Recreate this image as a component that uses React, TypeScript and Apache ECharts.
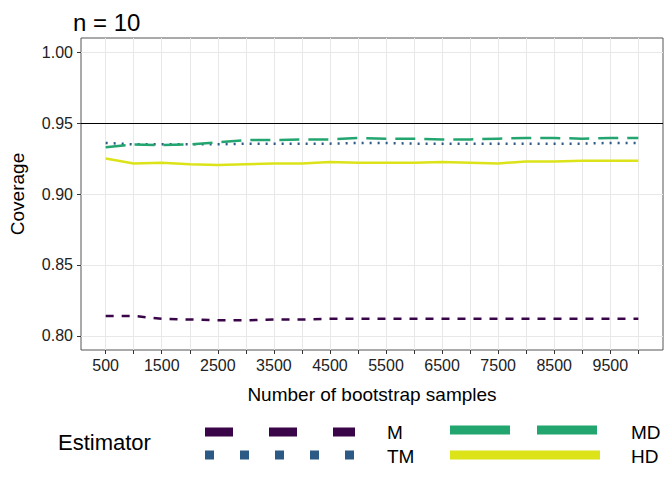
import * as echarts from 'echarts';
import { useEffect, useRef } from 'react';

const samples = [500, 1000, 1500, 2000, 2500, 3000, 3500, 4000, 4500, 5000, 5500, 6000, 6500, 7000, 7500, 8000, 8500, 9000, 9500, 10000];
const labelTicks = [500, 1500, 2500, 3500, 4500, 5500, 6500, 7500, 8500, 9500];
const yTicks = [0.8, 0.85, 0.9, 0.95, 1.0];
const mValues = [0.814, 0.814, 0.812, 0.8115, 0.811, 0.811, 0.8115, 0.8115, 0.812, 0.812, 0.812, 0.812, 0.812, 0.812, 0.812, 0.812, 0.812, 0.812, 0.812, 0.812];
const tmValues = [0.936, 0.935, 0.935, 0.935, 0.935, 0.9355, 0.9355, 0.9355, 0.9355, 0.936, 0.936, 0.9355, 0.9355, 0.9355, 0.9355, 0.9355, 0.9355, 0.9355, 0.936, 0.936];
const mdValues = [0.933, 0.935, 0.9345, 0.935, 0.9365, 0.938, 0.938, 0.9385, 0.9385, 0.9395, 0.939, 0.939, 0.9385, 0.9385, 0.939, 0.9395, 0.9395, 0.939, 0.9395, 0.9395];
const hdValues = [0.925, 0.9215, 0.922, 0.921, 0.9205, 0.921, 0.9215, 0.9215, 0.9225, 0.922, 0.922, 0.922, 0.9225, 0.922, 0.9215, 0.923, 0.923, 0.9235, 0.9235, 0.9235];
const target = 0.95;

const colors = { M: '#3a0548', TM: '#2c5a85', MD: '#22a56f', HD: '#dce319' };
const font = 'Liberation Sans, Arial, sans-serif';

export default function App() {
  const chartRef = useRef<HTMLDivElement>(null);

  useEffect(() => {
    document.body.style.margin = '0';
    if (!chartRef.current) return;
    const chart = echarts.init(chartRef.current, undefined, { renderer: 'svg' });

    const mk = (name: string, vals: number[], color: string, type: any, width: number) => ({
      name,
      type: 'line',
      data: samples.map((s, i) => [s, vals[i]]),
      symbol: 'none',
      lineStyle: { color, type, width, cap: 'butt' },
      z: 3,
    });

    const legendLine = (x1: number, x2: number, y: number, color: string, dash: any) => ({
      type: 'line',
      shape: { x1, y1: y, x2, y2: y },
      style: { stroke: color, lineWidth: 9, lineDash: dash },
    });
    const legendText = (x: number, y: number, text: string, size = 19) => ({
      type: 'text',
      x, y,
      style: { text, fontSize: size, fontFamily: font, fill: '#000', verticalAlign: 'middle' },
    });

    chart.setOption({
      animation: false,
      backgroundColor: '#fff',
      title: {
        text: 'n = 10',
        left: 68,
        top: 5,
        textStyle: { fontSize: 24, fontWeight: 'normal', fontFamily: font, color: '#000' },
      },
      grid: { left: 75, right: 9, top: 38, bottom: 130, show: true, borderColor: '#555', borderWidth: 1 },
      xAxis: {
        type: 'value',
        min: 60,
        max: 10440,
        name: 'Number of bootstrap samples',
        nameLocation: 'middle',
        nameGap: 35,
        nameTextStyle: { fontSize: 19, fontFamily: font, color: '#000' },
        axisLine: { show: false },
        axisTick: { show: true, customValues: samples, length: 4, lineStyle: { color: '#333' } },
        axisLabel: { customValues: labelTicks, formatter: (v: number) => String(v), fontSize: 16, fontFamily: font, color: '#222', margin: 7 },
        splitLine: { show: true, lineStyle: { color: '#e8e8e8', width: 1 } },
      },
      yAxis: {
        type: 'value',
        min: 0.79,
        max: 1.01,
        name: 'Coverage',
        nameLocation: 'middle',
        nameGap: 54,
        nameTextStyle: { fontSize: 19, fontFamily: font, color: '#000' },
        axisLine: { show: false },
        axisTick: { show: true, customValues: yTicks, length: 4, lineStyle: { color: '#333' } },
        axisLabel: { customValues: yTicks, formatter: (v: number) => v.toFixed(2), fontSize: 16, fontFamily: font, color: '#222' },
        splitLine: { show: true, lineStyle: { color: '#e8e8e8', width: 1 } },
      },
      graphic: [
        legendText(58, 442, 'Estimator', 22),
        legendLine(205, 355, 432, colors.M, [28, 36]),
        legendLine(205, 355, 455, colors.TM, [9, 26]),
        legendLine(450, 600, 430, colors.MD, [60, 27]),
        legendLine(450, 600, 455, colors.HD, null),
        legendText(387, 432, 'M'),
        legendText(387, 456, 'TM'),
        legendText(631, 432, 'MD'),
        legendText(631, 456, 'HD'),
      ],
      series: [
        {
          type: 'line',
          data: [],
          markLine: {
            silent: true,
            symbol: 'none',
            label: { show: false },
            lineStyle: { color: '#000', type: 'solid', width: 1.2 },
            data: [{ yAxis: target }],
          },
        },
        mk('M', mValues, colors.M, [8, 8], 2.5),
        mk('TM', tmValues, colors.TM, [2, 6], 2.5),
        mk('MD', mdValues, colors.MD, [20, 9], 2.5),
        mk('HD', hdValues, colors.HD, 'solid', 2.5),
      ],
    });

    return () => chart.dispose();
  }, []);

  return <div ref={chartRef} style={{ width: 672, height: 480 }} />;
}
